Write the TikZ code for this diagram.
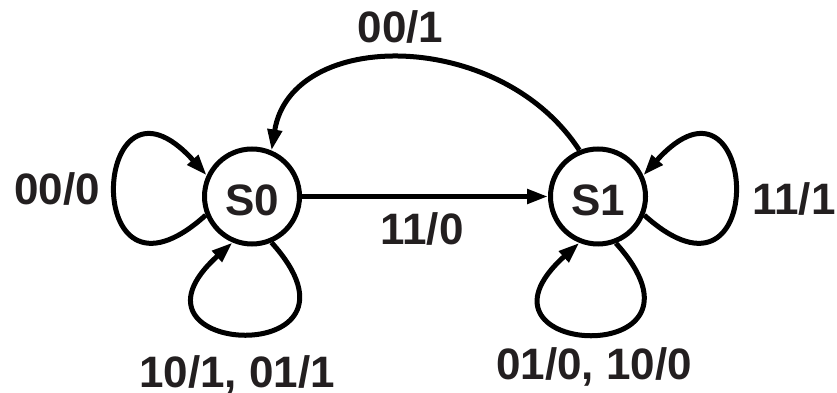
\documentclass[tikz,border=0pt]{standalone}
\usepackage{fontspec}
\setmainfont{Liberation Sans}
\usetikzlibrary{arrows.meta}
\definecolor{ink}{RGB}{35,31,32}
\begin{document}
\begin{tikzpicture}[x=1pt,y=1pt,
  state/.style={circle,draw=black,line width=5pt,minimum size=95pt,inner sep=0pt,
    font=\bfseries\fontsize{44}{44}\selectfont,text=ink,text height=37.5pt},
  edgelabel/.style={anchor=base,font=\bfseries\fontsize{44}{44}\selectfont,text=ink,inner sep=0pt},
  trans/.style={draw=black,line width=5pt,-{Triangle[length=21pt,width=14pt]}},
  selfloop/.style={trans,distance=172pt},
]
\useasboundingbox (0,0) rectangle (837,393);

% states
\node[state] (S0) at (252,196.5) {S0};
\node[state] (S1) at (598,196.5) {S1};

% transitions between the states
\draw[trans] (S0) -- (S1);
\draw[trans] (S1.112) .. controls (500,365) and (291,365) .. (S0.67);

% self loops
\draw[selfloop] (S0.202) to[out=222,in=132] (S0.155);
\draw[selfloop] (S0.293) to[out=312,in=222] (S0.247);
\draw[selfloop] (S1.338) to[out=318,in=48] (S1.25);
\draw[selfloop] (S1.291) to[out=312,in=222] (S1.248);

% input/output labels
\node[edgelabel] (l01) at (400.5,350) {00/1};
\node[edgelabel] (l00) at (57,188) {00/0};
\node[edgelabel] (l11) at (794,178) {11/1};
\node[edgelabel] (l10) at (422,148) {11/0};
\node[edgelabel] (lb0) at (237,5) {10/1, 01/1};
\node[edgelabel] (lb1) at (594,13) {01/0, 10/0};
\end{tikzpicture}
\end{document}
